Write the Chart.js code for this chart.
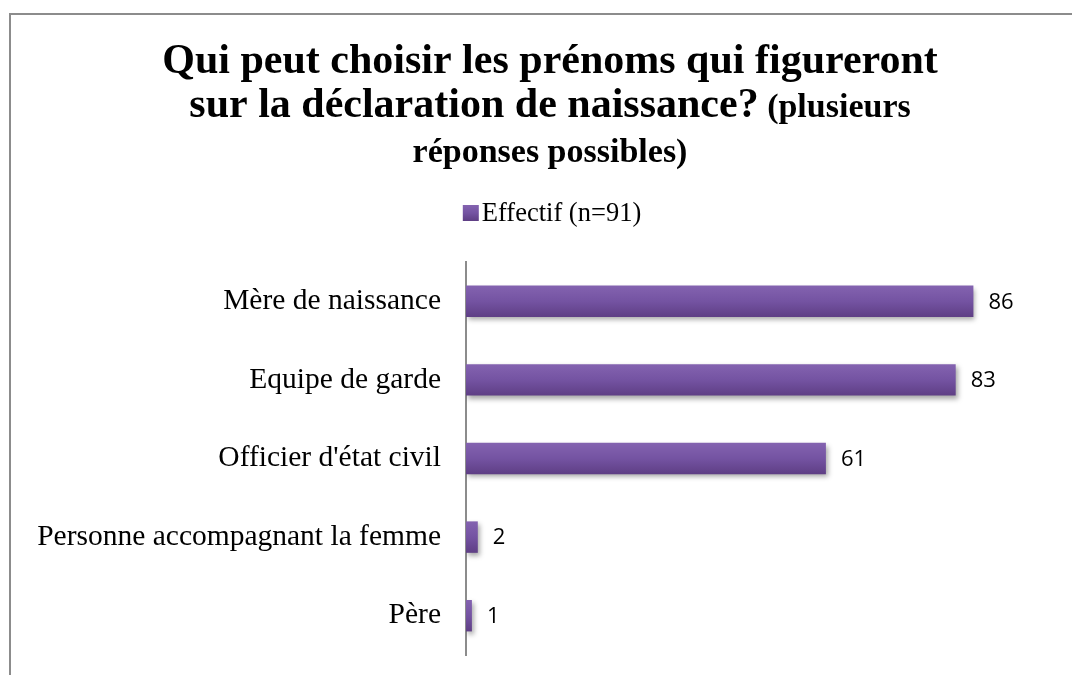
<!DOCTYPE html>
<html>
<head>
<meta charset="utf-8">
<script src="https://cdn.jsdelivr.net/npm/chart.js@4"></script>
<style>
  html, body { margin: 0; padding: 0; background: #fff; overflow: hidden; }
  #wrap { position: relative; width: 1072px; height: 675px; }
  #frame { position: absolute; left: 9px; top: 13px; width: 2000px; height: 2000px;
           border: 2px solid #8c8c8c; box-sizing: border-box; pointer-events: none; }
  canvas { position: absolute; left: 0; top: 0; }
</style>
</head>
<body>
<div id="wrap">
  <canvas id="myChart" width="1072" height="675"></canvas>
  <div id="frame"></div>
</div>
<script>
const categories = ['Mère de naissance', 'Equipe de garde', "Officier d'état civil", 'Personne accompagnant la femme', 'Père'];
const effectif = [86, 83, 61, 2, 1];
const seriesLabel = 'Effectif (n=91)';
const titleLine1 = 'Qui peut choisir les prénoms qui figureront';
const titleLine2 = 'sur la déclaration de naissance?';
const titleLine2Small = ' (plusieurs';
const titleLine3 = 'réponses possibles)';

const serif = '"Liberation Serif", "Times New Roman", serif';
const centerX = 550;

function purple(ctx, y0, y1) {
    const g = ctx.createLinearGradient(0, y0, 0, y1);
    g.addColorStop(0, '#8463b0');
    g.addColorStop(0.5, '#7453a2');
    g.addColorStop(1, '#5e3e84');
    return g;
}

// title with mixed sizes plus the legend, drawn on the canvas
const headerPlugin = {
    id: 'header',
    afterDraw(chart) {
        const ctx = chart.ctx;
        ctx.save();
        ctx.fillStyle = '#000';
        ctx.textBaseline = 'alphabetic';
        ctx.textAlign = 'left';

        ctx.font = 'bold 42px ' + serif;
        let w = ctx.measureText(titleLine1).width;
        ctx.fillText(titleLine1, centerX - w / 2, 73);

        ctx.font = 'bold 42px ' + serif;
        const wa = ctx.measureText(titleLine2).width;
        ctx.font = 'bold 34px ' + serif;
        const wb = ctx.measureText(titleLine2Small).width;
        let x = centerX - (wa + wb) / 2;
        ctx.font = 'bold 42px ' + serif;
        ctx.fillText(titleLine2, x, 117);
        ctx.font = 'bold 34px ' + serif;
        ctx.fillText(titleLine2Small, x + wa, 117);

        ctx.font = 'bold 34px ' + serif;
        w = ctx.measureText(titleLine3).width;
        ctx.fillText(titleLine3, centerX - w / 2, 162);

        // legend
        ctx.font = '26.5px ' + serif;
        const tw = ctx.measureText(seriesLabel).width;
        const lx = 552 - (16 + 3 + tw) / 2;
        ctx.fillStyle = purple(ctx, 205, 221);
        ctx.fillRect(lx, 205, 16, 16);
        ctx.fillStyle = '#000';
        ctx.fillText(seriesLabel, lx + 19, 221);
        ctx.restore();
    }
};

const shadowPlugin = {
    id: 'barShadow',
    beforeDatasetsDraw(chart) {
        const ctx = chart.ctx;
        ctx.save();
        ctx.shadowColor = 'rgba(0,0,0,0.35)';
        ctx.shadowBlur = 5;
        ctx.shadowOffsetX = 2;
        ctx.shadowOffsetY = 3;
    },
    afterDatasetsDraw(chart) {
        chart.ctx.restore();
    }
};

const valueLabels = {
    id: 'valueLabels',
    afterDatasetsDraw(chart) {
        const ctx = chart.ctx;
        const meta = chart.getDatasetMeta(0);
        ctx.save();
        ctx.font = '22px "Open Sans", "Liberation Sans", sans-serif';
        ctx.fillStyle = '#000';
        ctx.textAlign = 'left';
        ctx.textBaseline = 'middle';
        meta.data.forEach((bar, i) => {
            ctx.fillText(String(effectif[i]), bar.x + 15, bar.y + 1);
        });
        ctx.restore();
    }
};

function barGradient(context) {
    const chart = context.chart;
    if (!chart.chartArea || context.dataIndex === undefined) return '#7050a0';
    const y = chart.scales.y.getPixelForValue(context.dataIndex);
    return purple(chart.ctx, y - 16, y + 16);
}

function createChart() {
    const ctx = document.getElementById('myChart').getContext('2d');
    new Chart(ctx, {
        type: 'bar',
        data: {
            labels: categories,
            datasets: [{
                label: seriesLabel,
                data: effectif,
                backgroundColor: barGradient,
                borderWidth: 0,
                categoryPercentage: 0.8,
                barPercentage: 0.5
            }]
        },
        options: {
            indexAxis: 'y',
            responsive: false,
            animation: false,
            layout: {
                padding: { left: 20, right: 16, top: 262, bottom: 20 }
            },
            plugins: {
                title: { display: false },
                tooltip: { enabled: false },
                legend: { display: false }
            },
            scales: {
                x: {
                    display: false,
                    min: 0,
                    max: 100
                },
                y: {
                    grid: { display: false },
                    border: { display: true, color: '#8c8c8c', width: 2 },
                    ticks: {
                        color: '#000',
                        font: { family: serif, size: 29.5 },
                        padding: 17
                    },
                    afterFit(scale) {
                        scale.width = 446;
                        scale.paddingTop = 0;
                        scale.paddingBottom = 0;
                    }
                }
            }
        },
        plugins: [headerPlugin, shadowPlugin, valueLabels]
    });
}

createChart();
</script>
</body>
</html>
